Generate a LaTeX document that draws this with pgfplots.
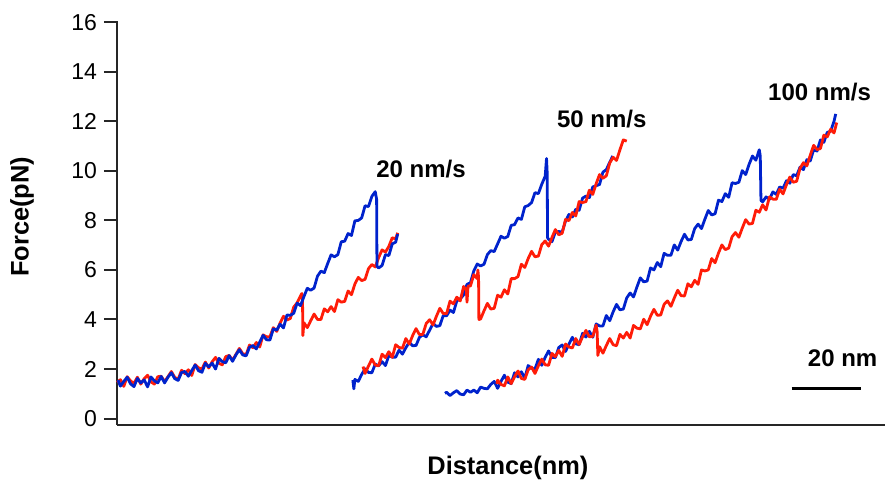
\documentclass[border=0pt]{standalone}
\usepackage{fontspec}
\setmainfont{Liberation Sans}
\usepackage{pgfplots}
\pgfplotsset{compat=1.18}

\definecolor{trblue}{RGB}{0,34,204}
\definecolor{trred}{RGB}{255,28,8}

\begin{document}
\begin{tikzpicture}
\begin{axis}[
  scale only axis, width=384pt, height=202pt,
  xmin=0, xmax=226, ymin=-0.26, ymax=16.05,
  axis x line*=bottom, axis y line*=left,
  xtick=\empty, ytick={0,2,...,16},
  tick align=outside, major tick length=6.5pt,
  axis line style={line width=1pt, black!85},
  every tick/.style={line width=1pt, black!85},
  yticklabel style={font=\fontsize{11.5}{13}\selectfont},
  /pgf/number format/assume math mode=true,
  clip=false,
  bl/.style={trblue, line width=1.4pt, line join=round},
  rd/.style={trred, line width=1.4pt, line join=round},
]
% 20 nm/s
\addplot[rd] coordinates {(0,1.46)(1,1.57)(2,1.30)(3,1.69)(4,1.52)(5,1.42)(6,1.67)(7,1.39)(8,1.61)(9,1.75)(10,1.48)(11,1.39)(12,1.69)(13,1.71)(14,1.49)(15,1.69)(16,1.90)(17,1.66)(18,1.59)(19,1.95)(20,1.81)(21,1.97)(22,1.74)(23,2.18)(24,2.05)(25,2.00)(26,2.28)(27,2.04)(28,2.29)(29,2.47)(30,2.23)(31,2.17)(32,2.50)(33,2.55)(34,2.36)(35,2.59)(36,2.83)(37,2.62)(38,2.58)(39,2.97)(40,2.86)(41,3.07)(42,2.89)(43,3.38)(44,3.30)(45,3.30)(46,3.67)(47,3.52)(48,3.86)(49,4.13)(50,3.98)(51,4.04)(52,4.50)(53,4.67)(54,4.95)(54.4,5.05)(54.6,4.75)(54.7,3.35)(55,3.87)(56,3.67)(57,3.95)(58,4.22)(59,4.00)(60,4.00)(61,4.43)(62,4.31)(63,4.52)(64,4.32)(65,4.80)(66,4.70)(67,4.73)(68,5.15)(69,5.00)(70,5.43)(71,5.70)(72,5.57)(73,5.62)(74,6.05)(75,6.22)(76,6.12)(77,6.50)(78,6.81)(79,6.72)(80,6.95)(81,7.30)(82,7.25)(82.6,7.50)};
\addplot[bl] coordinates {(0.3,1.55)(1,1.31)(2,1.50)(3,1.67)(4,1.40)(5,1.29)(6,1.62)(7,1.44)(8,1.56)(9,1.28)(10,1.68)(11,1.52)(12,1.44)(13,1.70)(14,1.44)(15,1.67)(16,1.85)(17,1.61)(18,1.54)(19,1.86)(20,1.90)(21,1.71)(22,1.94)(23,2.16)(24,1.93)(25,1.87)(26,2.23)(27,2.09)(28,2.24)(29,2.00)(30,2.43)(31,2.30)(32,2.25)(33,2.54)(34,2.31)(35,2.57)(36,2.78)(37,2.57)(38,2.53)(39,2.88)(40,2.95)(41,2.81)(42,3.09)(43,3.36)(44,3.18)(45,3.17)(46,3.62)(47,3.57)(48,3.81)(49,3.66)(50,4.18)(51,4.17)(52,4.25)(53,4.66)(54,4.56)(55,4.92)(56,5.26)(57,5.18)(58,5.27)(59,5.75)(60,5.95)(61,5.89)(62,6.26)(63,6.61)(64,6.53)(65,6.62)(66,7.14)(67,7.16)(68,7.47)(69,7.39)(70,7.98)(71,8.00)(72,8.10)(73,8.59)(74,8.56)(75,8.97)(76,9.16)(76.4,8.85)(76.5,6.15)(77,6.08)(78,6.18)(79,6.62)(80,6.58)(81,7.05)(82,7.12)(82.6,7.45)};
% 50 nm/s
\addplot[bl] coordinates {(69.4,1.55)(69.7,1.20)(70,1.58)(71,1.50)(72,1.78)(73,2.01)(74,1.86)(75,1.85)(76,2.20)(77,2.13)(78,2.30)(79,2.14)(80,2.55)(81,2.48)(82,2.48)(83,2.76)(84,2.60)(85,2.86)(86,3.08)(87,2.94)(88,2.95)(89,3.28)(90,3.38)(91,3.30)(92,3.57)(93,3.84)(94,3.72)(95,3.75)(96,4.16)(97,4.15)(98,4.38)(99,4.28)(100,4.75)(101,4.83)(102,4.99)(103,5.42)(104,5.48)(105,5.96)(106,6.24)(107,6.16)(108,6.23)(109,6.62)(110,6.78)(111,6.74)(112,7.05)(113,7.36)(114,7.28)(115,7.35)(116,7.80)(117,7.83)(118,8.10)(119,8.04)(120,8.55)(121,8.60)(122,8.72)(123,9.12)(124,9.08)(125,9.46)(126,9.78)(126.4,10.50)(126.6,9.90)(126.7,7.30)(127,7.24)(128,7.14)(129,7.53)(130,7.55)(131,7.53)(132,7.98)(133,8.24)(134,8.14)(135,8.45)(136,8.41)(137,8.90)(138,8.98)(139,8.92)(140,9.35)(141,9.40)(142,9.45)(143,9.95)(144,10.05)(145,10.35)(145.9,10.60)};
\addplot[rd] coordinates {(72.4,2.10)(73,1.82)(74,2.12)(75,2.40)(76,2.16)(77,2.13)(78,2.60)(79,2.46)(80,2.70)(81,2.47)(82,2.98)(83,2.87)(84,2.84)(85,3.23)(86,3.01)(87,3.35)(88,3.63)(89,3.39)(90,3.40)(91,3.84)(92,3.99)(93,3.78)(94,4.13)(95,4.45)(96,4.24)(97,4.24)(98,4.74)(99,4.63)(100,4.90)(101,4.75)(102,5.33)(102.8,5.20)(103,4.70)(103.3,5.35)(104,5.35)(105,5.81)(106,5.65)(106.2,6.00)(106.4,5.70)(106.5,4.00)(107,4.02)(108,4.35)(109,4.65)(110,4.42)(111,4.45)(112,4.98)(113,4.90)(114,5.20)(115,5.03)(116,5.65)(117,5.65)(118,5.73)(119,6.23)(120,6.10)(121,6.46)(122,6.75)(123,6.53)(124,6.56)(125,7.02)(126,7.17)(127,6.96)(128,7.31)(129,7.63)(130,7.42)(131,7.48)(132,8.04)(133,7.99)(134,8.32)(135,8.18)(136,8.76)(137,8.72)(138,8.76)(139,9.22)(140,9.05)(141,9.48)(142,9.85)(143,9.70)(144,9.80)(145,10.32)(146,10.55)(147,10.42)(148,10.85)(149,11.25)(150,11.20)};
% 100 nm/s
\addplot[bl] coordinates {(96.5,1.02)(97,1.06)(98,0.93)(99,1.04)(100,1.13)(101,0.99)(102,0.96)(103,1.15)(104,1.06)(105,1.15)(106,1.04)(107,1.27)(108,1.22)(109,1.20)(110,1.38)(111,1.50)(112,1.22)(113,1.50)(114,1.75)(115,1.47)(116,1.41)(117,1.85)(118,1.68)(119,1.89)(120,1.63)(121,2.14)(122,2.03)(123,2.00)(124,2.39)(125,2.15)(126,2.47)(127,2.73)(128,2.47)(129,2.46)(130,2.87)(131,2.97)(132,2.71)(133,3.01)(134,3.28)(135,3.02)(136,2.98)(137,3.44)(138,3.29)(139,3.52)(140,3.28)(141,3.82)(142,3.74)(143,3.74)(144,4.16)(145,3.95)(146,4.31)(147,4.61)(148,4.39)(149,4.42)(150,4.87)(151,5.07)(152,4.91)(153,5.31)(154,5.68)(155,5.52)(156,5.55)(157,6.08)(158,6.00)(159,6.30)(160,6.13)(161,6.67)(162,6.59)(163,6.59)(164,7.01)(165,6.80)(166,7.15)(167,7.44)(168,7.21)(169,7.23)(170,7.67)(171,7.85)(172,7.67)(173,8.05)(174,8.40)(175,8.22)(176,8.27)(177,8.82)(178,8.76)(179,9.08)(180,8.93)(181,9.52)(182,9.49)(183,9.54)(184,10.01)(185,9.85)(186,10.26)(187,10.60)(188,10.43)(189,10.85)(189.3,10.60)(189.5,8.80)(190,8.75)(191,8.95)(192,8.85)(193,9.15)(194,9.05)(195,9.35)(196,9.30)(197,9.60)(198,9.50)(199,9.85)(200,9.80)(201,10.15)(202,10.05)(203,10.45)(204,10.40)(205,10.85)(206,10.80)(207,11.25)(208,11.15)(209,11.55)(210,11.60)(211,12.00)(211.5,12.30)};
\addplot[rd] coordinates {(111.8,1.40)(112,1.55)(113,1.38)(114,1.32)(115,1.68)(116,1.41)(117,1.69)(118,1.92)(119,1.62)(120,1.58)(121,1.97)(122,2.08)(123,1.82)(124,2.13)(125,2.40)(126,2.17)(127,2.15)(128,2.63)(129,2.50)(130,2.75)(131,2.51)(132,3.01)(133,2.89)(134,2.85)(135,3.23)(136,2.99)(137,3.30)(138,3.56)(139,3.30)(140,3.32)(141,3.77)(141.3,3.50)(141.5,2.55)(142,2.90)(143,2.64)(144,2.95)(145,3.23)(146,2.98)(147,2.94)(148,3.40)(149,3.25)(150,3.48)(151,3.25)(152,3.76)(153,3.65)(154,3.62)(155,4.01)(156,3.79)(157,4.13)(158,4.41)(159,4.17)(160,4.18)(161,4.61)(162,4.75)(163,4.53)(164,4.87)(165,5.18)(166,4.96)(167,4.95)(168,5.44)(169,5.32)(170,5.58)(171,5.42)(172,6.00)(173,5.96)(174,6.00)(175,6.46)(176,6.29)(177,6.68)(178,7.01)(179,6.82)(180,6.88)(181,7.34)(182,7.51)(183,7.32)(184,7.69)(185,8.03)(186,7.85)(187,7.88)(188,8.41)(189,8.33)(190,8.63)(191,8.42)(192,8.95)(193,8.86)(194,8.85)(195,9.26)(196,9.07)(197,9.44)(198,9.75)(199,9.54)(200,9.58)(201,10.10)(202,10.33)(203,10.20)(204,10.63)(205,11.03)(206,10.86)(207,10.90)(208,11.44)(209,11.37)(210,11.68)(211,11.53)(211.8,11.95)};
% scale bar
\draw[line width=1.5pt, black] (axis cs:198.5,1.23) -- (axis cs:218.8,1.23);
% annotations
\tikzset{ann/.style={anchor=west, inner sep=0pt, font=\bfseries\fontsize{12}{14}\selectfont}}
\node[ann] at (axis cs:76.2,10.08) {20 nm/s};
\node[ann] at (axis cs:129.4,12.1) {50 nm/s};
\node[ann] at (axis cs:191.5,13.2) {100 nm/s};
\node[ann] at (axis cs:203.2,2.44) {20 nm};
\node[font=\bfseries\fontsize{12.7}{15}\selectfont, anchor=center] at (axis description cs:0.509,-0.106) {Distance(nm)};
\node[font=\bfseries\fontsize{12.7}{15}\selectfont, anchor=center, rotate=90] at (axis description cs:-0.1237,0.515) {Force(pN)};
\end{axis}
\pgfresetboundingbox
\useasboundingbox (-58.5pt,-29pt) rectangle (384pt,212.5pt);
\end{tikzpicture}
\end{document}
